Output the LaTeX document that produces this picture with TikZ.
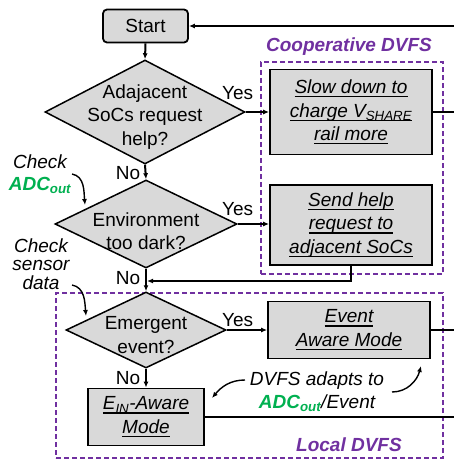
\documentclass[tikz,border=0pt]{standalone}
\usepackage{fontspec}
\setmainfont{Liberation Sans}
\usetikzlibrary{shapes.geometric,arrows.meta}
\definecolor{dvfspurple}{HTML}{7030A0}
\definecolor{adcgreen}{HTML}{00B050}
\definecolor{boxgray}{HTML}{D9D9D9}
\newcommand{\adcout}{\textcolor{adcgreen}{\textbf{\textit{ADC\textsubscript{out}}}}}
% italic text with an underline at a fixed depth
\newcommand{\uit}[1]{{\setbox0=\hbox{\itshape #1}\rlap{\rule[-3.6pt]{\wd0}{1.1pt}}\box0}}

\begin{document}
\begin{tikzpicture}[x=1pt,y=-1pt,
  every node/.style={font=\fontsize{19}{23.5}\selectfont, inner sep=0pt, align=center},
  flow/.style={line width=2pt, -{Latex[length=6pt,width=5pt]}},
  wire/.style={line width=2pt},
  note/.style={line width=1.4pt, -{Latex[length=6pt,width=5pt]}},
  decision/.style={diamond, draw, line width=1.5pt, fill=boxgray},
  procbox/.style={rectangle, draw, line width=1.8pt, fill=boxgray},
  startbox/.style={rectangle, rounded corners=4pt, draw, line width=1.8pt, fill=boxgray},
  frame/.style={rectangle, draw=dvfspurple, line width=2.2pt, dash pattern=on 5pt off 3pt},
  framelabel/.style={text=dvfspurple, font=\fontsize{19}{23}\selectfont\bfseries\itshape}
]
\useasboundingbox (0,0) rectangle (453,460);

% dashed groups
\node[frame, minimum width=182, minimum height=212] (coop) at (352,168) {};
\node[frame, minimum width=387, minimum height=165] (local) at (249.5,375.5) {};
\node[framelabel] (cooplbl) at (349,47) {Cooperative DVFS};
\node[framelabel] (locallbl) at (349,445) {Local DVFS};

% start
\node[startbox, minimum width=85, minimum height=33] (start) at (145.5,26) {Start};

% decisions
\node[decision, minimum width=200, minimum height=104] (d1) at (145,112) {};
\node (d1t) at (145,117) {Adajacent\\SoCs request\\help?};
\node[decision, minimum width=182, minimum height=88] (d2) at (146,224) {};
\node (d2t) at (146,231) {Environment\\too dark?};
\node[decision, minimum width=160, minimum height=76] (d3) at (146,330) {};
\node (d3t) at (146,335) {Emergent\\event?};

% actions
\node[procbox, minimum width=162, minimum height=85] (b1) at (351,112)
  {\uit{Slow down to}\\\uit{charge V\textsubscript{SHARE}}\\\uit{rail more}};
\node[procbox, minimum width=162, minimum height=80] (b2) at (351,225)
  {\uit{Send help}\\\uit{request to}\\\uit{adjacent SoCs}};
\node[procbox, minimum width=162, minimum height=57] (b3) at (349,330)
  {\uit{Event}\\\uit{Aware Mode}};
\node[procbox, minimum width=116, minimum height=57] (b4) at (146,417)
  {\uit{E\textsubscript{IN}-Aware}\\\uit{Mode}};

% branch labels
\node[anchor=west] (y1) at (222,93) {Yes};
\node[anchor=west] (y2) at (222,209) {Yes};
\node[anchor=west] (y3) at (222,320) {Yes};
\node (n1) at (128,173) {No};
\node (n2) at (128,278) {No};
\node (n3) at (128,378) {No};

% side notes
\node[font=\fontsize{19}{22}\selectfont\itshape] (chkadc) at (40,174) {Check\\\adcout};
\node[font=\fontsize{19}{18.5}\selectfont\itshape] (chksens) at (41,264) {Check\\sensor\\data};
\node[font=\fontsize{19}{23}\selectfont\itshape] (adapt) at (317,391.5) {DVFS adapts to\\\adcout/Event};

% loose ends of the wiring
\coordinate (e0) at (460,26);
\coordinate (e1) at (460,112);
\coordinate (e3) at (460,330);
\coordinate (e4) at (460,417);
\coordinate (join) at (147,281);
\coordinate (ca0) at (72,174);
\coordinate (ca1) at (85,205);
\coordinate (cs0) at (72,285);
\coordinate (cs1) at (86,316);
\coordinate (al0) at (245,380);
\coordinate (al1) at (212,398);
\coordinate (ar0) at (392,392);
\coordinate (ar1) at (421,366);

% main flow
\draw[flow] (e0) -- (start.east);
\draw[flow] (start.south) -- (d1.north);
\draw[flow] (d1.south) -- (d2.north);
\draw[flow] (d2.south) -- (d3.north);
\draw[flow] (d3.south) -- (b4.north);
\draw[flow] (d1.east) -- (b1.west);
\draw[flow] (d2.east) -- (d2.east -| b2.west);
\draw[flow] (d3.east) -- (d3.east -| b3.west);
\draw[flow] (b2.south) |- (join);
\draw[wire] (b1.east) -- (e1);
\draw[wire] (b3.east) -- (e3);
\draw[wire] (b4.east) -- (e4);

% annotation arrows
\draw[note] (ca0) to[out=-10, in=95] (ca1);
\draw[note] (cs0) to[out=-10, in=95] (cs1);
\draw[note] (al0) to[out=180, in=50] (al1);
\draw[note] (ar0) to[out=0, in=-105] (ar1);
\end{tikzpicture}
\end{document}
